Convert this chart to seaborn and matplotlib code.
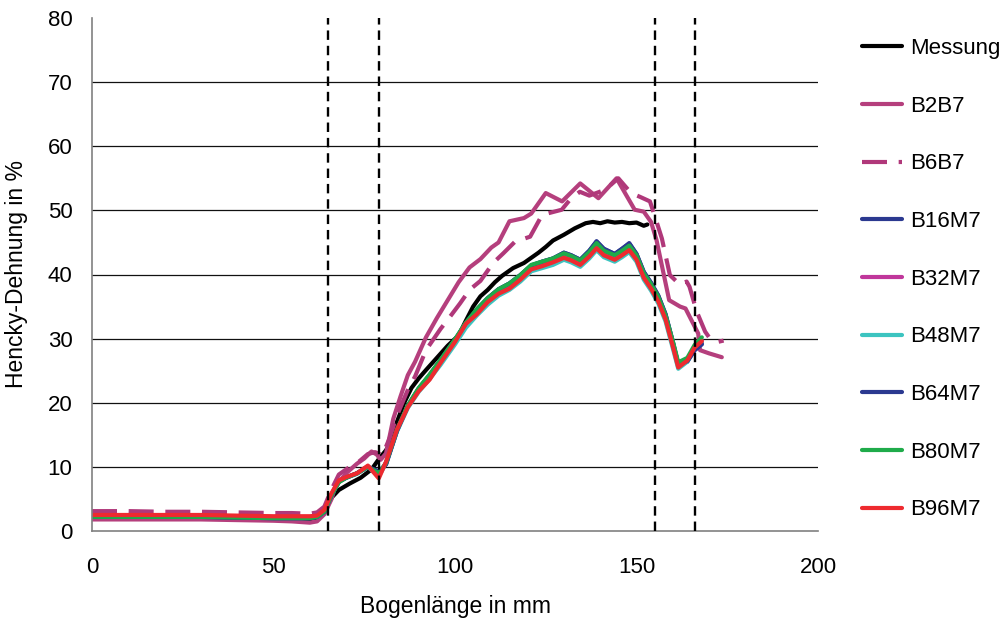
import numpy as np
import pandas as pd
import matplotlib
matplotlib.use("Agg")
import matplotlib.pyplot as plt
import seaborn as sns

# ---------------------------------------------------------------- data
# Measurement (arc length in mm, Hencky strain in %)
x_messung = [0, 10, 20, 30, 40, 50, 55, 60, 62, 64, 66, 68, 71, 74, 77, 79, 81, 83, 84,
             86, 88, 90, 92, 95, 98, 101, 103, 105, 107, 109, 111, 113, 116, 119, 121,
             123, 125, 127, 130, 133, 136, 138, 140, 142, 144, 146, 148, 150, 152, 153]
y_messung = [2.0, 2.0, 2.0, 1.9, 1.9, 1.8, 1.8, 1.8, 2.1, 3.0, 5.2, 6.4, 7.4, 8.3, 9.6,
             11.2, 12.6, 14.5, 17.0, 20.0, 22.3, 23.8, 25.1, 27.0, 28.9, 30.5, 32.8, 35.0,
             36.6, 37.6, 38.8, 39.8, 41.0, 41.8, 42.6, 43.4, 44.3, 45.3, 46.2, 47.2, 48.0,
             48.2, 48.0, 48.3, 48.1, 48.2, 48.0, 48.1, 47.6, 47.8]

# Simulation B2B7
x_b2b7 = [0, 10, 20, 30, 40, 50, 55, 60, 62, 64, 66, 67, 70, 73, 75, 77, 78.5, 79.5, 81,
          83, 85, 87, 89, 92, 95, 98, 101, 104, 107, 110, 112, 115, 119, 121, 125, 129.5,
          134.5, 139.5, 144.5, 149.5, 152, 154, 155.5, 159, 162, 163.5, 167, 167.5, 170,
          173.5]
y_b2b7 = [1.8, 1.8, 1.8, 1.8, 1.7, 1.6, 1.5, 1.3, 1.5, 2.6, 5.0, 6.9, 9.0, 10.5, 11.3,
          12.4, 11.9, 11.1, 12.1, 17.5, 21.0, 24.3, 26.4, 30.2, 33.2, 36.0, 38.8, 41.1,
          42.4, 44.2, 45.0, 48.3, 48.8, 49.5, 52.7, 51.4, 54.2, 51.9, 55.0, 50.1, 49.8,
          48.2, 45.4, 36.0, 35.0, 34.7, 30.8, 28.2, 27.7, 27.1]

# Simulation B6B7
x_b6b7 = [0, 10, 20, 30, 40, 50, 55, 60, 62, 64, 66, 68, 70.5, 73.5, 76, 78, 80, 82, 84,
          87, 89, 92, 96, 98.6, 101.4, 104, 107, 110.5, 113.3, 116.5, 120.7, 124, 129.4,
          132, 134.4, 137, 141.3, 145, 148.5, 151, 153.7, 155.1, 157, 159.2, 162, 163.8,
          164.6, 166.6, 168.9, 170.5, 172.5, 174]
y_b6b7 = [3.1, 3.1, 3.0, 3.0, 2.9, 2.8, 2.8, 2.7, 2.9, 3.8, 6.5, 8.8, 9.8, 10.8, 12.0,
          12.3, 11.8, 14.5, 18.0, 22.0, 24.1, 28.2, 31.5, 33.4, 35.5, 37.6, 39.0, 41.8,
          43.3, 45.1, 45.9, 49.3, 50.1, 51.9, 52.9, 52.3, 53.2, 55.0, 52.7, 52.1, 51.4,
          49.0, 45.6, 39.9, 38.4, 38.9, 38.1, 34.2, 31.1, 29.8, 29.5, 29.7]

# FE models with varying element counts share one arc-length grid
x_fe = [0, 10, 20, 30, 40, 50, 55, 60, 62, 64, 66, 68, 70, 73, 76, 79, 81, 84, 87, 90,
        93, 96, 100, 103, 106, 109, 112, 115, 118, 121, 124, 127, 130, 132, 134.5, 137,
        139, 141, 144, 146, 148, 150, 152, 154, 156, 158, 160, 161.5, 164, 166, 168]
y_b16m7 = [2.2, 2.2, 2.2, 2.2, 2.1, 2.0, 2.0, 2.0, 2.2, 3.0, 5.6, 7.7, 8.3, 9.0, 10.0,
           9.3, 10.4, 15.6, 19.5, 22.2, 24.3, 26.6, 29.8, 32.4, 34.5, 36.3, 37.7, 38.6,
           39.9, 41.4, 42.0, 42.5, 43.4, 43.0, 42.3, 43.7, 45.1, 44.0, 43.2, 44.0, 44.8,
           43.2, 40.4, 38.7, 36.7, 33.8, 29.5, 26.0, 26.4, 28.2, 29.1]
y_b32m7 = [2.4, 2.4, 2.4, 2.4, 2.3, 2.2, 2.2, 2.2, 2.3, 3.2, 5.8, 7.8, 8.4, 9.0, 10.1,
           8.6, 10.7, 15.7, 19.4, 22.0, 24.1, 26.4, 29.6, 32.4, 34.3, 35.9, 37.2, 38.1,
           39.4, 40.9, 41.5, 42.0, 42.8, 42.4, 41.7, 43.0, 44.3, 43.2, 42.5, 43.2, 44.0,
           42.5, 39.7, 38.0, 36.0, 33.2, 29.0, 25.8, 26.7, 28.7, 29.7]
y_b48m7 = [2.3, 2.3, 2.3, 2.3, 2.2, 2.1, 2.1, 2.1, 2.2, 3.1, 5.7, 7.7, 8.3, 8.9, 10.0,
           8.5, 10.6, 15.5, 19.2, 21.7, 23.7, 25.9, 29.1, 31.7, 33.6, 35.3, 36.7, 37.6,
           38.9, 40.5, 41.0, 41.5, 42.3, 41.9, 41.2, 42.5, 43.8, 42.7, 42.0, 42.7, 43.5,
           42.0, 39.2, 37.5, 35.5, 32.7, 28.5, 25.3, 26.4, 28.5, 29.4]
y_b64m7 = [2.2, 2.2, 2.2, 2.2, 2.1, 2.0, 2.0, 2.0, 2.2, 3.0, 5.6, 7.7, 8.3, 9.0, 10.0,
           9.2, 10.4, 15.6, 19.5, 22.2, 24.3, 26.6, 29.8, 32.4, 34.5, 36.3, 37.7, 38.6,
           39.9, 41.4, 42.0, 42.5, 43.4, 43.0, 42.3, 43.7, 45.2, 44.0, 43.2, 44.0, 44.9,
           43.2, 40.4, 38.7, 36.7, 33.8, 29.5, 26.0, 26.5, 28.2, 29.2]
y_b80m7 = [2.2, 2.2, 2.2, 2.2, 2.1, 2.0, 2.0, 2.0, 2.2, 3.0, 5.6, 7.6, 8.3, 9.0, 10.0,
           9.0, 10.6, 15.8, 19.6, 22.3, 24.4, 26.7, 29.9, 32.5, 34.6, 36.3, 37.7, 38.6,
           39.9, 41.5, 42.0, 42.5, 43.3, 42.9, 42.2, 43.5, 44.9, 43.7, 43.0, 43.7, 44.5,
           43.0, 40.2, 38.5, 36.5, 33.6, 29.6, 26.3, 27.0, 29.0, 30.2]
y_b96m7 = [2.5, 2.5, 2.5, 2.5, 2.4, 2.3, 2.3, 2.3, 2.4, 3.3, 5.9, 7.9, 8.4, 9.0, 10.2,
           8.2, 10.8, 15.8, 19.3, 21.8, 23.6, 26.2, 29.5, 32.3, 33.8, 35.7, 37.0, 37.8,
           39.2, 40.8, 41.3, 41.9, 42.6, 42.2, 41.5, 42.8, 44.1, 43.0, 42.3, 43.0, 43.8,
           42.3, 39.5, 37.8, 35.8, 33.0, 28.8, 25.5, 26.6, 28.6, 29.6]

# Section boundaries along the arc (mm)
section_marks = [65, 79, 155, 166]

series_names = ["Messung", "B2B7", "B6B7", "B16M7", "B32M7",
                "B48M7", "B64M7", "B80M7", "B96M7"]
series_x = [x_messung, x_b2b7, x_b6b7, x_fe, x_fe, x_fe, x_fe, x_fe, x_fe]
series_y = [y_messung, y_b2b7, y_b6b7, y_b16m7, y_b32m7,
            y_b48m7, y_b64m7, y_b80m7, y_b96m7]

colors = {
    "Messung": "#000000",
    "B2B7": "#B53F7D",
    "B6B7": "#B0387A",
    "B16M7": "#2B3990",
    "B32M7": "#C0379B",
    "B48M7": "#3CC4C0",
    "B64M7": "#2B3990",
    "B80M7": "#1FAB4A",
    "B96M7": "#EE2A2F",
}
dash_styles = {name: "" for name in series_names}
dash_styles["B6B7"] = (6, 2.8)

frames = []
for name, xs, ys in zip(series_names, series_x, series_y):
    frames.append(pd.DataFrame({"Bogenlänge": xs, "Dehnung": ys, "Serie": name}))
df = pd.concat(frames, ignore_index=True)

# ---------------------------------------------------------------- style
sns.set_style("white")
plt.rcParams["font.family"] = ["Liberation Sans", "DejaVu Sans"]
plt.rcParams["font.size"] = 16
plt.rcParams["text.color"] = "black"
plt.rcParams["axes.labelcolor"] = "black"

fig = plt.figure(figsize=(10.04, 6.2), dpi=100)
ax = fig.add_axes([92 / 1004, 1 - 531 / 620, (818 - 92) / 1004, (531 - 18) / 620])

sns.lineplot(data=df, x="Bogenlänge", y="Dehnung", hue="Serie", style="Serie",
             hue_order=series_names, style_order=series_names,
             palette=colors, dashes=dash_styles, sort=False, estimator=None,
             linewidth=3.0, ax=ax, legend=True)

for xm in section_marks:
    ax.axvline(xm, color="black", linewidth=1.7, linestyle=(0, (4, 2.5)), zorder=5)

ax.set_xlim(0, 200)
ax.set_ylim(0, 80)
ax.set_xticks([0, 50, 100, 150, 200])
ax.set_yticks(range(0, 81, 10))

# horizontal grid lines between the axis limits
for yg in range(10, 80, 10):
    ax.axhline(yg, color="#111111", linewidth=0.9, zorder=0)

for side in ["top", "right"]:
    ax.spines[side].set_visible(False)
for side in ["left", "bottom"]:
    ax.spines[side].set_color("#808080")
    ax.spines[side].set_linewidth(1.2)

ax.tick_params(axis="y", direction="inout", length=10, width=1.2, color="#808080",
               labelsize=16, labelcolor="black", pad=9)
ax.tick_params(axis="x", direction="out", length=6, width=1.2, color="#808080",
               labelsize=16, labelcolor="black", pad=13)

ax.set_xlabel("Bogenlänge in mm", fontsize=16.5, labelpad=12)
ax.set_ylabel("Hencky-Dehnung in %", fontsize=16.5, labelpad=14)

handles, labels = ax.get_legend_handles_labels()
ax.legend(handles, labels, loc="upper left",
          bbox_to_anchor=(862 / 1004, 1 - 38 / 620), bbox_transform=fig.transFigure,
          frameon=False, fontsize=16, handlelength=1.8, handletextpad=0.35,
          labelspacing=1.65, borderpad=0, borderaxespad=0)

fig.savefig("out.png", dpi=100)
